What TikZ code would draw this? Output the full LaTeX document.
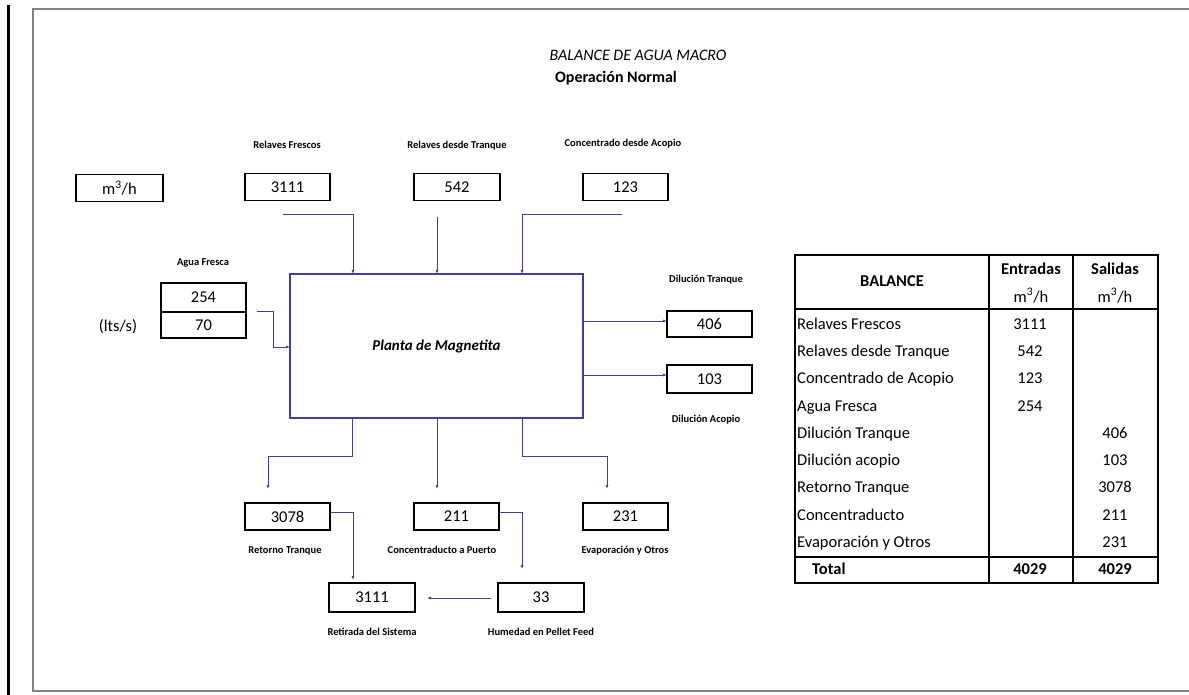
\documentclass[tikz,border=0pt]{standalone}
\usepackage{fontspec}
\setmainfont{Carlito}
\usetikzlibrary{arrows.meta}
\definecolor{flowblue}{RGB}{62,62,168}
\definecolor{framegray}{RGB}{130,130,130}
\begin{document}
\begin{tikzpicture}[x=1pt,y=-1pt,
  valbox/.style={draw=black,line width=1.8pt,minimum width=85pt,minimum height=27pt,inner sep=0pt,font=\fontsize{16.5}{18}\selectfont},
  lbl/.style={font=\bfseries\fontsize{10.5}{12}\selectfont,inner sep=0pt,text height=7.5pt,text depth=2.5pt},
  flow/.style={draw=flowblue,line width=0.9pt,-{Latex[length=4pt,width=3pt]}},
  tline/.style={draw=black,line width=1.6pt},
  tcell/.style={font=\fontsize{16.5}{18}\selectfont,inner sep=0pt,text height=11.5pt,text depth=3.5pt},
  tbold/.style={font=\bfseries\fontsize{16.5}{18}\selectfont,inner sep=0pt,text height=11.5pt,text depth=3.5pt}]
\useasboundingbox (0,0) rectangle (1189,695);
% page frame
\draw[black,line width=3pt] (8,5) -- (8,695);
\draw[framegray,line width=2pt] (1195,9) -- (33,9) -- (33,691) -- (1195,691);
% titles
\node[font=\itshape\fontsize{16}{18}\selectfont,inner sep=0pt] (title) at (638,55) {BALANCE DE AGUA MACRO};
\node[font=\bfseries\fontsize{16}{18}\selectfont,inner sep=0pt] (subtitle) at (616,78) {Operación Normal};
% value boxes
\node[valbox,minimum width=87pt] (unit) at (119.5,188) {m\textsuperscript{3}/h};
\node[valbox] (rf) at (287.5,187) {3111};
\node[valbox,minimum width=86pt] (rt) at (457,187) {542};
\node[valbox] (ca) at (625.5,187) {123};
\node[lbl] (rfl) at (287,146) {Relaves Frescos};
\node[lbl] (rtl) at (457,146) {Relaves desde Tranque};
\node[lbl] (cal) at (623,144) {Concentrado desde Acopio};
% agua fresca
\node[valbox,minimum height=29pt] (af1) at (203.5,297.5) {254};
\node[valbox,minimum height=26pt] (af2) at (203.5,325) {70};
\node[lbl] (afl) at (203,263) {Agua Fresca};
\node[font=\fontsize{16.5}{18}\selectfont,inner sep=0pt] (lts) at (118,327) {(lts/s)};
% plant
\node[draw=flowblue,line width=1.2pt,minimum width=293pt,minimum height=144pt,inner sep=0pt,font=\bfseries\itshape\fontsize{15}{18}\selectfont] (plant) at (436.5,346) {Planta de Magnetita};
% right outputs
\node[valbox,minimum height=26pt] (dt) at (709.5,324) {406};
\node[valbox,minimum height=28pt] (da) at (709.5,379) {103};
\node[lbl] (dtl) at (706,280) {Dilución Tranque};
\node[lbl] (dal) at (706,420) {Dilución Acopio};
% bottom outputs
\node[valbox] (rtq) at (287.5,516.5) {3078};
\node[valbox] (cp) at (456.5,516.5) {211};
\node[valbox] (ev) at (625.5,516.5) {231};
\node[lbl] (rtql) at (285,551) {Retorno Tranque};
\node[lbl] (cpl) at (442,551) {Concentraducto a Puerto};
\node[lbl] (evl) at (625,551) {Evaporación y Otros};
\node[valbox,minimum width=86pt,minimum height=29pt] (rs) at (372,597.5) {3111};
\node[valbox,minimum width=86pt,minimum height=29pt] (hp) at (541,597.5) {33};
\node[lbl] (rsl) at (372,633) {Retirada del Sistema};
\node[lbl] (hpl) at (541,633) {Humedad en Pellet Feed};
% connector coordinates
\coordinate (rfa) at (283,214);
\coordinate (rfb) at (353,274);
\coordinate (rta) at (437,217);
\coordinate (rtb) at (437,274);
\coordinate (caa) at (622,214);
\coordinate (cab) at (522,274);
\coordinate (afa) at (257,311);
\coordinate (afb) at (273,311);
\coordinate (afc) at (290,347);
\coordinate (dta) at (583,321);
\coordinate (dtb) at (667,321);
\coordinate (daa) at (583,375);
\coordinate (dab) at (667,375);
\coordinate (rqa) at (352,419);
\coordinate (rqb) at (268,489);
\coordinate (cpa) at (437,419);
\coordinate (cpb) at (437,489);
\coordinate (eva) at (522,419);
\coordinate (evb) at (607,489);
\coordinate (rsa) at (331,512);
\coordinate (rsb) at (353,580);
\coordinate (hpa) at (500,512);
\coordinate (hpb) at (522,569);
\coordinate (hra) at (491,598);
\coordinate (hrb) at (427,598);
% connectors
\draw[flow] (rfa) -| (rfb);
\draw[flow] (rta) -- (rtb);
\draw[flow] (caa) -| (cab);
\draw[flow] (afa) -- (afb) |- (afc);
\draw[flow] (dta) -- (dtb);
\draw[flow] (daa) -- (dab);
\draw[flow] (rqa) -- (352,456) -| (rqb);
\draw[flow] (cpa) -- (cpb);
\draw[flow] (eva) -- (522,456) -| (evb);
\draw[flow] (rsa) -| (rsb);
\draw[flow] (hpa) -| (hpb);
\draw[flow] (hra) -- (hrb);
% balance table
\draw[tline] (795,255) rectangle (1158,583);
\draw[tline] (989,255) -- (989,583);
\draw[tline] (1073,255) -- (1073,583);
\draw[black,line width=2pt] (795,309) -- (1158,309);
\draw[black,line width=1.3pt] (795,557) -- (1158,557);
\node[tbold] (hbal) at (892,283) {BALANCE};
\node[tbold] (hent) at (1031,270) {Entradas};
\node[tcell] (hentu) at (1031,298) {m\textsuperscript{3}/h};
\node[tbold] (hsal) at (1115,270) {Salidas};
\node[tcell] (hsalu) at (1115,298) {m\textsuperscript{3}/h};
\node[tcell,anchor=west] (r1) at (797,325) {Relaves Frescos};
\node[tcell,anchor=west] (r2) at (797,352) {Relaves desde Tranque};
\node[tcell,anchor=west] (r3) at (797,379) {Concentrado de Acopio};
\node[tcell,anchor=west] (r4) at (797,407) {Agua Fresca};
\node[tcell,anchor=west] (r5) at (797,434) {Dilución Tranque};
\node[tcell,anchor=west] (r6) at (797,461) {Dilución acopio};
\node[tcell,anchor=west] (r7) at (797,488) {Retorno Tranque};
\node[tcell,anchor=west] (r8) at (797,516) {Concentraducto};
\node[tcell,anchor=west] (r9) at (797,543) {Evaporación y Otros};
\node[tbold,anchor=west] (rt0) at (812,570) {Total};
\node[tcell] (e1) at (1030,325) {3111};
\node[tcell] (e2) at (1030,352) {542};
\node[tcell] (e3) at (1030,379) {123};
\node[tcell] (e4) at (1030,407) {254};
\node[tcell] (s5) at (1115,434) {406};
\node[tcell] (s6) at (1115,461) {103};
\node[tcell] (s7) at (1115,488) {3078};
\node[tcell] (s8) at (1115,516) {211};
\node[tcell] (s9) at (1115,543) {231};
\node[tbold] (et) at (1030,570) {4029};
\node[tbold] (st) at (1115,570) {4029};
\end{tikzpicture}
\end{document}
